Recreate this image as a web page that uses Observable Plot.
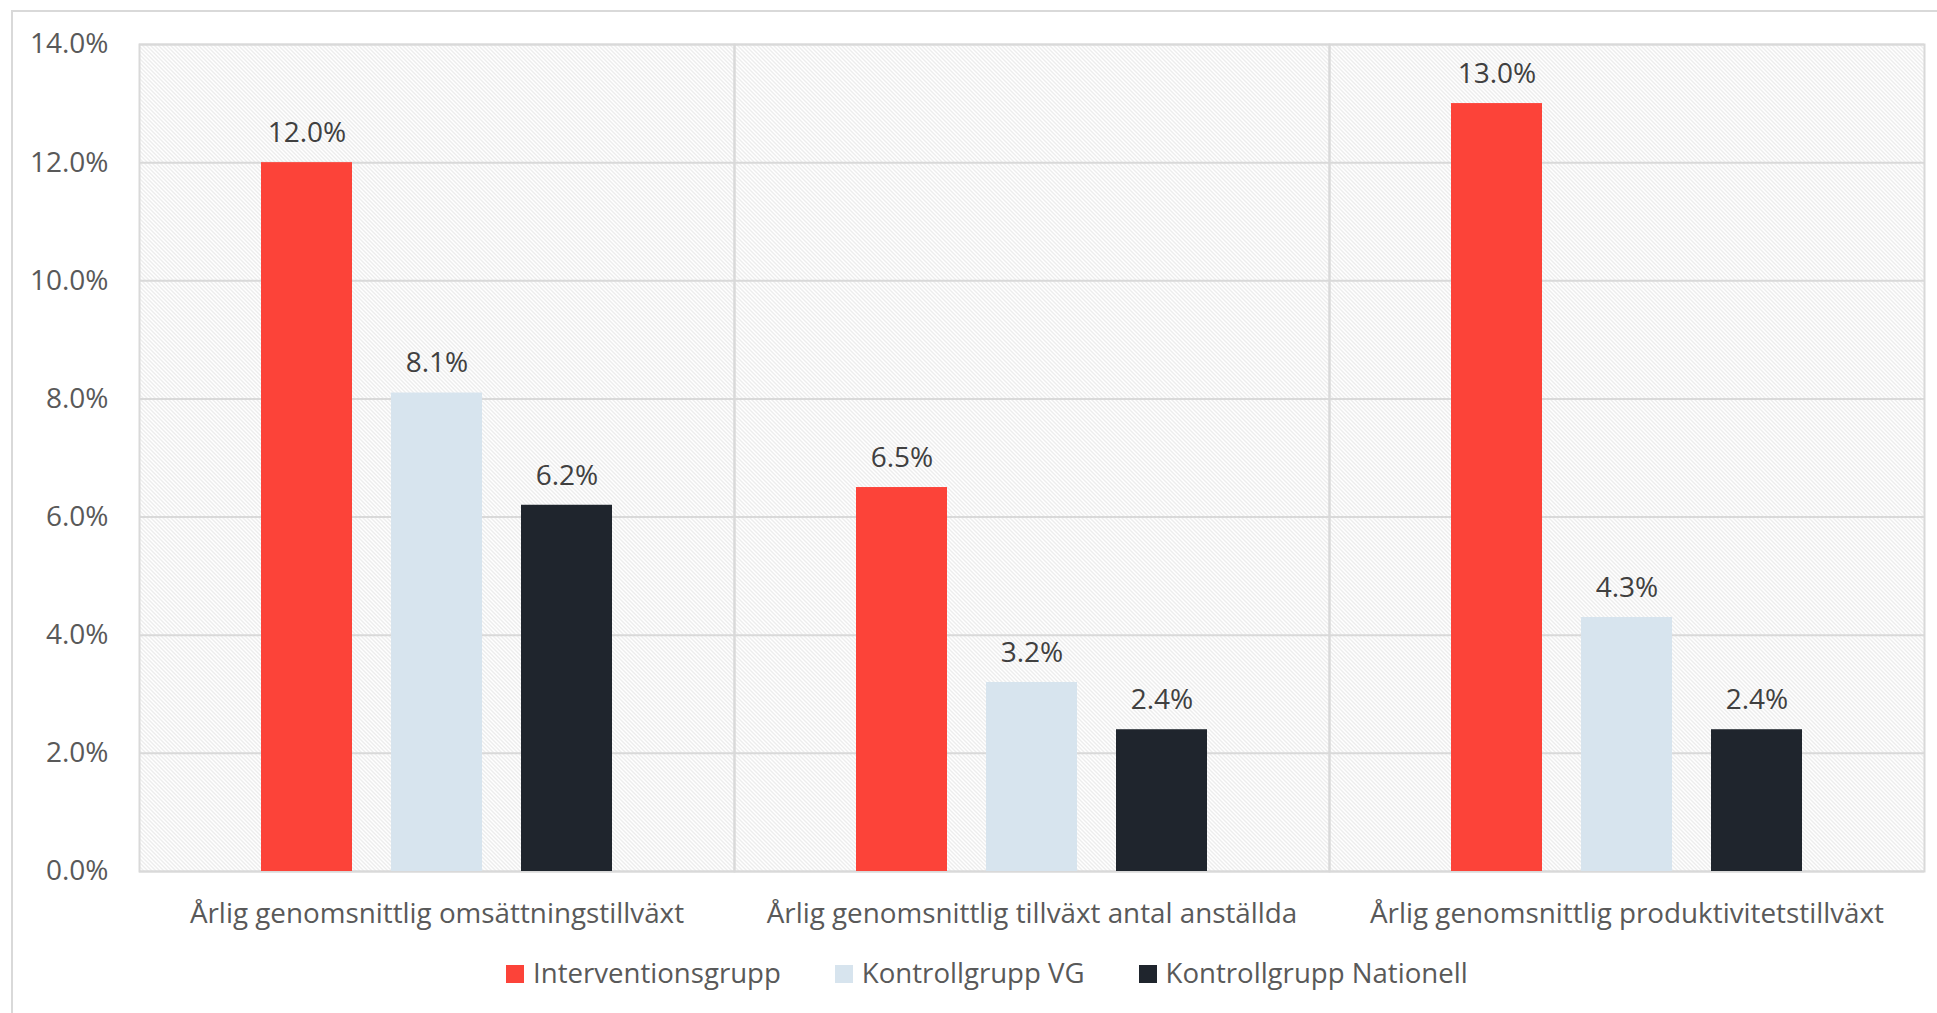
<!DOCTYPE html>
<html>
<head>
<meta charset="utf-8">
<script src="https://cdn.jsdelivr.net/npm/d3@7"></script>
<script src="https://cdn.jsdelivr.net/npm/@observablehq/plot@0.6"></script>
<style>
  html, body { margin: 0; padding: 0; background: #fff; overflow: hidden; }
  #wrap { position: relative; width: 1937px; height: 1013px; font-family: "Open Sans", sans-serif; }
  #border { position: absolute; left: 11px; top: 10px; width: 3000px; height: 3000px; border-left: 2px solid #d9d9d9; border-top: 2px solid #d9d9d9; pointer-events: none; }
  #chart { position: absolute; left: 0; top: 0; }
  #legend { position: absolute; left: 506px; top: 953px; height: 38px; display: flex; align-items: center; font-size: 27.6px; color: #595959; line-height: 38px; white-space: nowrap; }
  .item { display: flex; align-items: center; margin-right: 54px; }
  .sw { width: 18px; height: 18px; margin-right: 9px; position: relative; top: 2px; }
</style>
</head>
<body>
<div id="wrap">
  <div id="chart"></div>
  <div id="legend"></div>
  <div id="border"></div>
</div>
<script>
const categories = [
  "Årlig genomsnittlig omsättningstillväxt",
  "Årlig genomsnittlig tillväxt antal anställda",
  "Årlig genomsnittlig produktivitetstillväxt"
];
const series = ["Interventionsgrupp", "Kontrollgrupp VG", "Kontrollgrupp Nationell"];
const interventionsgrupp = [12.0, 6.5, 13.0];
const kontrollgruppVG = [8.1, 3.2, 4.3];
const kontrollgruppNationell = [6.2, 2.4, 2.4];
const seriesColors = ["#FC4339", "#D7E4EE", "#1F252D"];
const yTicks = [0, 2, 4, 6, 8, 10, 12, 14];

const seriesValues = [interventionsgrupp, kontrollgruppVG, kontrollgruppNationell];
const data = [];
categories.forEach((c, i) => {
  series.forEach((s, j) => {
    data.push({cat: c, series: s, value: seriesValues[j][i]});
  });
});

const fmt = d => d.toFixed(1) + "%";

const plot = Plot.plot({
  width: 1937,
  height: 960,
  marginLeft: 138,
  marginRight: 12,
  marginTop: 44,
  marginBottom: 89,
  style: {fontFamily: "Open Sans, sans-serif", fontSize: "28px", color: "#595959", background: "transparent"},
  fx: {domain: categories, padding: 0, label: null},
  x: {domain: series, paddingInner: 0.301, paddingOuter: 0.937, axis: null},
  y: {domain: [0, 14], label: null},
  color: {domain: series, range: seriesColors},
  marks: [
    Plot.frame({fill: "url(#hatch)", stroke: null}),
    Plot.gridY(yTicks, {stroke: "#d9d9d9", strokeOpacity: 1, strokeWidth: 2}),
    Plot.frame({stroke: "#d9d9d9", strokeWidth: 2}),
    Plot.barY(data, {fx: "cat", x: "series", y: "value", fill: "series"}),
    Plot.text(data, {fx: "cat", x: "series", y: "value", text: d => fmt(d.value), lineAnchor: "middle", dy: -29.5, fontSize: 28, fill: "#404040"}),
    Plot.axisY(yTicks, {tickSize: 0, tickPadding: 31, tickFormat: fmt, fontSize: 28, label: null}),
    Plot.axisFx({anchor: "bottom", tickSize: 0, tickPadding: 31.5, fontSize: 27.8, label: null})
  ]
});

// hatch pattern definition
const svgs = plot.tagName.toLowerCase() === "svg" ? [plot] : Array.from(plot.querySelectorAll("svg"));
const svg = d3.select(svgs[0]);
const defs = svg.insert("defs", ":first-child");
const pat = defs.append("pattern")
  .attr("id", "hatch")
  .attr("patternUnits", "userSpaceOnUse")
  .attr("width", 4)
  .attr("height", 4);
pat.append("rect").attr("width", 4).attr("height", 4).attr("fill", "#ffffff");
pat.append("path")
  .attr("d", "M-1,-1L5,5M-1,3L1,5M3,-1L5,1")
  .attr("stroke", "#dadada")
  .attr("stroke-width", 1)
  .attr("shape-rendering", "crispEdges");

document.getElementById("chart").appendChild(plot);

// legend
const legend = d3.select("#legend");
series.forEach((s, i) => {
  const it = legend.append("div").attr("class", "item");
  it.append("div").attr("class", "sw").style("background", seriesColors[i]);
  it.append("span").text(s);
});
</script>
</body>
</html>
